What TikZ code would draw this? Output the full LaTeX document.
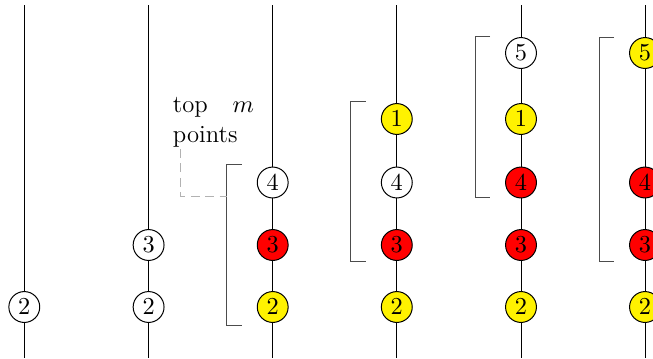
\documentclass[tikz,border=0pt]{standalone}
\begin{document}
\begin{tikzpicture}[x=0.45pt,y=-0.45pt,
  font=\fontsize{11.1}{13.5}\selectfont,
  axis/.style={line width=0.45pt,draw=black},
  pt/.style={circle,draw=black,line width=0.45pt,minimum size=13.9pt,inner sep=0pt},
  wh/.style={pt,fill=white},
  yl/.style={pt,fill=yellow},
  rd/.style={pt,fill=red},
  brk/.style={line width=0.45pt,draw=black!70},
  hint/.style={line width=0.45pt,draw=black!30,dash pattern=on 4pt off 2.5pt}]
\clip (0,0) rectangle (653,358);

% columns: top and bottom of each vertical line
\foreach \n/\x in {1/24.3,2/148.6,3/272.7,4/396.8,5/521,6/645}{
  \coordinate (t\n) at (\x,5);
  \coordinate (b\n) at (\x,358);
  \draw[axis] (t\n) -- (b\n);
}

% column 1
\node[wh] (a2) at (24.3,307) {$2$};
% column 2
\node[wh] (b3x) at (148.6,245) {$3$};
\node[wh] (b2x) at (148.6,307) {$2$};
% column 3
\node[wh] (c4) at (272.7,182.5) {$4$};
\node[rd] (c3) at (272.7,245) {$3$};
\node[yl] (c2) at (272.7,307) {$2$};
% column 4
\node[yl] (d1) at (396.8,119) {$1$};
\node[wh] (d4) at (396.8,182.5) {$4$};
\node[rd] (d3) at (396.8,245) {$3$};
\node[yl] (d2) at (396.8,307) {$2$};
% column 5
\node[wh] (e5) at (521,53) {$5$};
\node[yl] (e1) at (521,119) {$1$};
\node[rd] (e4) at (521,182.5) {$4$};
\node[rd] (e3) at (521,245) {$3$};
\node[yl] (e2) at (521,307) {$2$};
% column 6
\node[yl] (f5) at (645,53) {$5$};
\node[rd] (f4) at (645,182.5) {$4$};
\node[rd] (f3) at (645,245) {$3$};
\node[yl] (f2) at (645,307) {$2$};

% brackets around the selected points
\foreach \n/\x/\top/\bot in {3/272.7/164/325,4/396.8/101/261,5/521/36/197,6/645/37/261}{
  \coordinate (k\n a) at (\x-31,\top);
  \coordinate (k\n b) at (\x-46,\top);
  \coordinate (k\n c) at (\x-46,\bot);
  \coordinate (k\n d) at (\x-31,\bot);
  \draw[brk] (k\n a) -- (k\n b) -- (k\n c) -- (k\n d);
}

% label with its pointer to the first bracket
\node[anchor=north west,align=left,inner sep=0pt] (lab) at (172.5,96.5) {top\quad$m$\\points};
\coordinate (hs) at (180,149);
\coordinate (he) at (226.7,196);
\draw[hint] (hs) |- (he);
\end{tikzpicture}
\end{document}
